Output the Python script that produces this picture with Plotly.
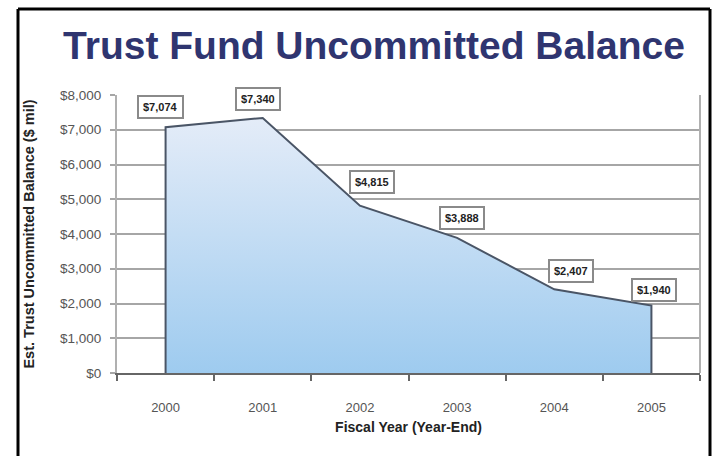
import plotly.graph_objects as go

years = ["2000", "2001", "2002", "2003", "2004", "2005"]
balance = [7074, 7340, 4815, 3888, 2407, 1940]
labels = ["$7,074", "$7,340", "$4,815", "$3,888", "$2,407", "$1,940"]
ytick_vals = [0, 1000, 2000, 3000, 4000, 5000, 6000, 7000, 8000]
ytick_text = ["$0", "$1,000", "$2,000", "$3,000", "$4,000", "$5,000", "$6,000", "$7,000", "$8,000"]

# label offsets (pixels) - styling only
lab_dx = [-5, -5, 12, 5, 17, 3]
lab_dy = [20, 19, 24, 20, 18, 16]

W, H = 714, 456
L, R, T, B = 117, 14, 95, 83
pw, ph = W - L - R, H - T - B

fig = go.Figure()

# closed area polygon built from the data
px = [years[0]] + years + [years[-1]]
py = [0] + balance + [0]
fig.add_trace(go.Scatter(
    x=px, y=py, mode="lines", fill="toself",
    fillgradient=dict(type="vertical",
                      colorscale=[[0, "#9ecbef"], [1, "#e4ecf8"]]),
    line=dict(color="#4a5566", width=2),
    hoverinfo="skip", showlegend=False,
))

for i, (v, t) in enumerate(zip(balance, labels)):
    fig.add_annotation(
        x=i, y=v, text=t, showarrow=False,
        xshift=lab_dx[i], yshift=lab_dy[i],
        font=dict(family="Arial", size=11, color="#222222", weight="bold"),
        bgcolor="white", bordercolor="#8a8a8a", borderwidth=2, borderpad=4,
    )

def xp(pxl):
    return (pxl - L) / pw

def yp(pyl):
    return (H - B - pyl) / ph

# outer black frame (left, top, right)
frame = dict(color="black", width=3)
fig.add_shape(type="line", xref="paper", yref="paper",
              x0=xp(18), x1=xp(18), y0=yp(9), y1=yp(470), line=frame)
fig.add_shape(type="line", xref="paper", yref="paper",
              x0=xp(18), x1=xp(710), y0=yp(9), y1=yp(9), line=frame)
fig.add_shape(type="line", xref="paper", yref="paper",
              x0=xp(710), x1=xp(710), y0=yp(9), y1=yp(470), line=frame)
# plot-area right border
fig.add_shape(type="line", xref="paper", yref="paper",
              x0=1, x1=1, y0=0, y1=1,
              line=dict(color="#b0b0b0", width=2))

fig.update_layout(
    width=W, height=H,
    margin=dict(l=L, r=R, t=T, b=B),
    paper_bgcolor="white", plot_bgcolor="white",
    title=dict(text="<b>Trust Fund Uncommitted Balance</b>",
               x=374 / W, xanchor="center", y=1 - 45 / H, yanchor="middle",
               font=dict(family="Arial", size=39, color="#2f3570")),
    xaxis=dict(
        type="category", range=[-0.5, 5.5], tickson="boundaries",
        showgrid=False, ticks="outside", ticklen=6, tickcolor="#666666",
        tickwidth=1.5, showline=True, linecolor="#666666", linewidth=2,
        ticklabelstandoff=21,
        tickfont=dict(family="Arial", size=13, color="#555555"),
        title=dict(text="<b>Fiscal Year (Year-End)</b>", standoff=9,
                   font=dict(family="Arial", size=14, color="#222222")),
    ),
    yaxis=dict(
        range=[0, 8000], tickvals=ytick_vals, ticktext=ytick_text,
        showgrid=True, gridcolor="#a6a6a6", gridwidth=2,
        ticks="outside", ticklen=5, tickcolor="#a6a6a6", tickwidth=2,
        showline=True, linecolor="#b0b0b0", linewidth=2,
        ticklabelstandoff=6,
        tickfont=dict(family="Arial", size=13.5, color="#555555"),
        title=dict(text="<b>Est. Trust Uncommitted Balance ($ mil)</b>", standoff=22,
                   font=dict(family="Arial", size=14.5, color="#222222")),
        zeroline=False,
    ),
)

fig.write_html("out.html", config={"displayModeBar": False},
               post_script="document.body.style.margin='0';")
